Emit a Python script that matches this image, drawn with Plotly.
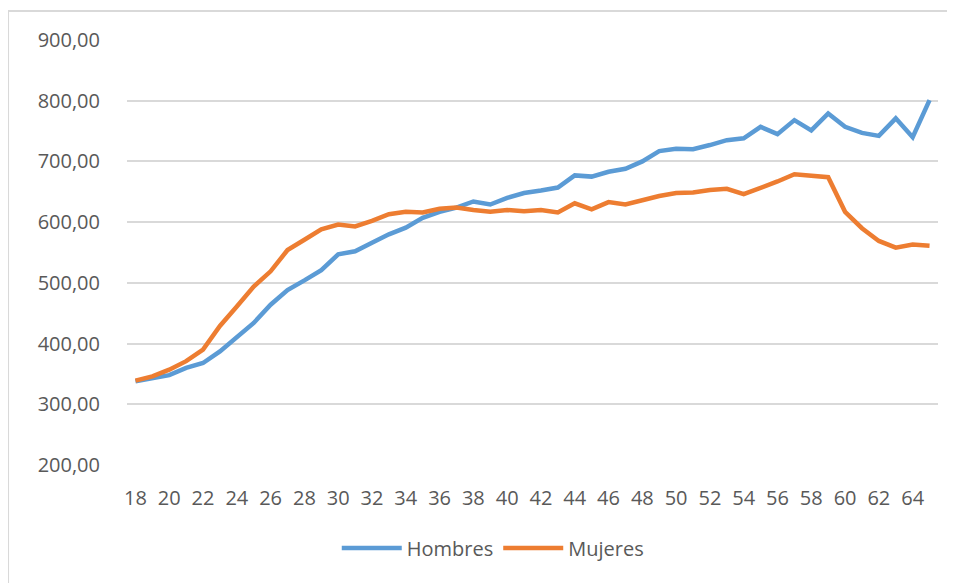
import plotly.graph_objects as go

# Edades (eje X)
edades = list(range(18, 66))

# Valores
hombres = [338, 343, 348, 360, 368, 387, 410, 434, 464, 488,
           504, 521, 547, 552, 566, 580, 591, 607, 617, 624,
           634, 629, 640, 648, 652, 657, 677, 675, 683, 688,
           700, 717, 721, 720, 727, 735, 738, 757, 745, 768,
           751, 779, 757, 747, 742, 771, 740, 801]

mujeres = [339, 346, 357, 371, 390, 429, 461, 494, 519, 554,
           571, 588, 596, 593, 602, 613, 617, 616, 622, 624,
           620, 617, 620, 618, 620, 616, 631, 621, 633, 629,
           636, 643, 648, 649, 653, 655, 646, 656, 667, 679,
           676, 674, 617, 590, 569, 558, 563, 561]

fig = go.Figure()

fig.add_trace(go.Scatter(
    x=edades, y=hombres, mode='lines', name='Hombres',
    line=dict(color='#5B9BD5', width=4.5)
))
fig.add_trace(go.Scatter(
    x=edades, y=mujeres, mode='lines', name='Mujeres',
    line=dict(color='#ED7D31', width=4.5)
))

# la página deja 8 px de margen, así que la figura es algo más pequeña
fig.update_layout(
    width=947,
    height=575,
    margin=dict(l=119, r=17, t=32, b=118),
    plot_bgcolor='white',
    paper_bgcolor='white',
    separators=',.',
    font=dict(family='Open Sans', size=20, color='#595959'),
    xaxis=dict(
        range=[17.5, 65.5],
        tick0=18,
        dtick=2,
        showgrid=False,
        zeroline=False,
        showline=False,
        ticks='',
        ticklabelstandoff=19,
    ),
    yaxis=dict(
        range=[200, 900],
        dtick=100,
        tickformat='.2f',
        showgrid=True,
        gridcolor='#D9D9D9',
        gridwidth=1.5,
        zeroline=False,
        showline=False,
        ticks='',
        ticklabelstandoff=26,
    ),
    legend=dict(
        orientation='h',
        x=0.451,
        xanchor='center',
        y=-0.195,
        yanchor='middle',
        font=dict(size=20, color='#595959'),
        itemwidth=60,
    ),
    shapes=[
        # borde del área del gráfico (izquierda y arriba)
        dict(type='line', xref='paper', yref='paper',
             x0=-0.1467, x1=-0.1467, y0=-0.3, y1=1.068,
             line=dict(color='#D9D9D9', width=2)),
        dict(type='line', xref='paper', yref='paper',
             x0=-0.1467, x1=1.05, y0=1.068, y1=1.068,
             line=dict(color='#D9D9D9', width=2)),
    ],
)

fig.write_html("out.html")
